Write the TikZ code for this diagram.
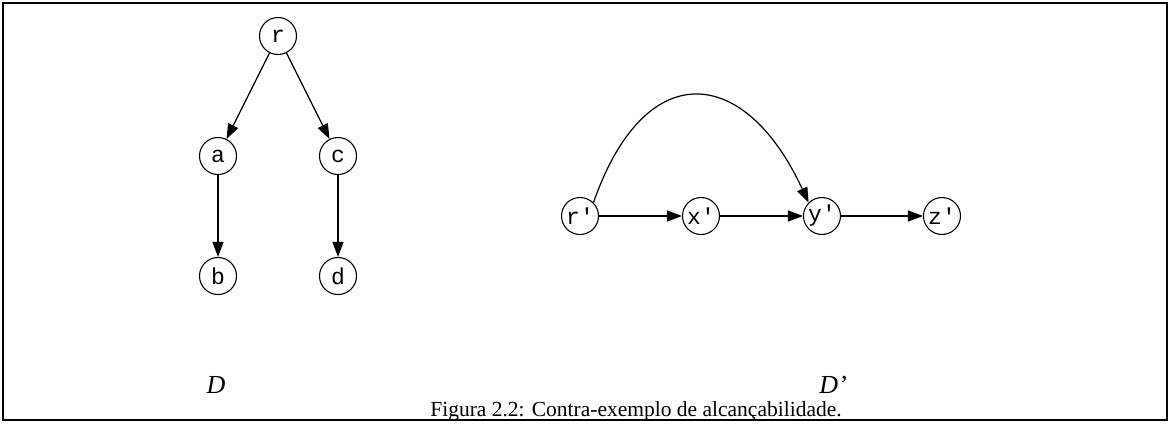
\documentclass[tikz,border=0pt]{standalone}
\usepackage{fontspec}
\setmainfont{Liberation Serif}
\newfontfamily\nodefont{Liberation Mono}
\usetikzlibrary{arrows.meta}
\begin{document}
\begin{tikzpicture}[x=1pt,y=-1pt,
  vtx/.style={circle,draw,line width=1.1pt,minimum size=37pt,inner sep=0pt,font=\nodefont\fontsize{23}{23}\selectfont},
  edge/.style={line width=1.2pt,-{Triangle[length=15pt,width=11pt]}},
  lbl/.style={font=\fontsize{26}{26}\selectfont\itshape}]
\useasboundingbox (0,0) rectangle (1171,424);
\draw[line width=1.4pt] (3,3) rectangle (1167,420);
% D
\node[vtx] (r) at (278,36) {r};
\node[vtx] (a) at (218,156) {a};
\node[vtx] (c) at (338,156) {c};
\node[vtx] (b) at (218,276) {b};
\node[vtx] (d) at (338,276) {d};
\draw[edge] (r) -- (a);
\draw[edge] (r) -- (c);
\draw[edge] (a) -- (b);
\draw[edge] (c) -- (d);
% D'
\node[vtx] (r1) at (580,216) {r'};
\node[vtx] (x1) at (701,216) {x'};
\node[vtx] (y1) at (822,216) {y'};
\node[vtx] (z1) at (942,216) {z'};
\draw[edge] (r1) -- (x1);
\draw[edge] (x1) -- (y1);
\draw[edge] (y1) -- (z1);
\draw[edge] (r1.north east) .. controls (645,55) and (745,65) .. (y1.north west);
% labels
\node[lbl] (lD) at (216,385) {D};
\node[lbl] (lD1) at (833,385) {D'};
\node[font=\fontsize{21.5}{21.5}\selectfont] (cap) at (636,411) {Figura 2.2: Contra-exemplo de alcançabilidade.};
\end{tikzpicture}
\end{document}
